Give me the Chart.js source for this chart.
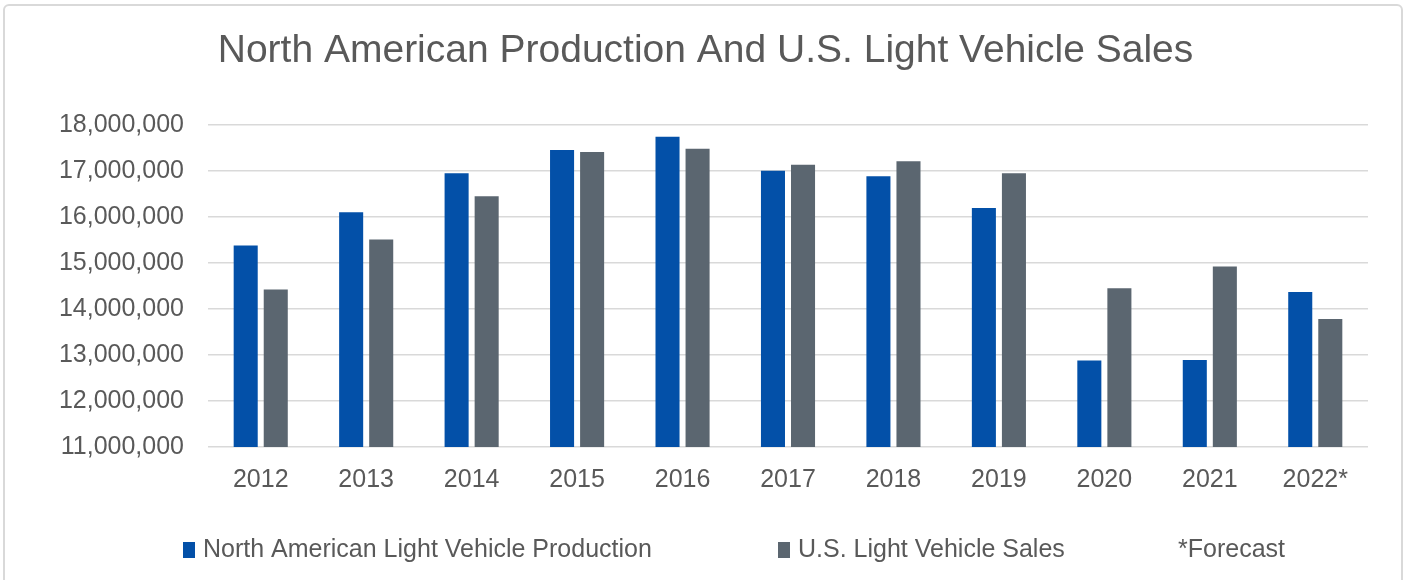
<!DOCTYPE html>
<html>
<head>
<meta charset="utf-8">
<script src="https://cdn.jsdelivr.net/npm/chart.js@4/dist/chart.umd.min.js"></script>
<style>
	html, body { margin: 0; padding: 0; background: #fff; }
	#wrap { position: relative; width: 1411px; height: 580px; overflow: hidden; }
	#frame { position: absolute; left: 3px; top: 4px; width: 1400px; height: 620px; border: 2px solid #d9d9d9; border-radius: 6px; box-sizing: border-box; }
	canvas { position: absolute; left: 0; top: 0; }
</style>
</head>
<body>
<div id="wrap">
	<div id="frame"></div>
	<canvas id="chart" width="1411" height="580"></canvas>
</div>
<script>

const years = ['2012', '2013', '2014', '2015', '2016', '2017', '2018', '2019', '2020', '2021', '2022*'];

const production = [15380000, 16100000, 16950000, 17450000, 17740000, 17000000, 16880000, 16190000, 12880000, 12890000, 14370000];
const sales = [14420000, 15510000, 16450000, 17410000, 17480000, 17130000, 17210000, 16950000, 14450000, 14920000, 13780000];

const seriesNames = ['North American Light Vehicle Production', 'U.S. Light Vehicle Sales'];
const note = '*Forecast';

const textColor = '#595959';
const fontFamily = '"Liberation Sans", Arial, sans-serif';

// legend drawn by hand so the wide gaps between items can be matched
const legendRow = {
	id: 'legendRow',
	afterDraw(chart) {
		const ctx = chart.ctx;
		const y = chart.height - 30;
		const slots = [183, 778];
		ctx.save();
		ctx.font = '25px ' + fontFamily;
		ctx.textBaseline = 'middle';
		chart.data.datasets.forEach((ds, i) => {
			ctx.fillStyle = ds.backgroundColor;
			ctx.fillRect(slots[i], y - 8, 12, 16);
			ctx.fillStyle = textColor;
			ctx.fillText(ds.label, slots[i] + 20, y);
		});
		ctx.fillStyle = textColor;
		ctx.fillText(note, 1178, y);
		ctx.restore();
	}
};

new Chart(document.getElementById('chart'), {
	type: 'bar',
	plugins: [legendRow],
	data: {
		labels: years,
		datasets: [
			{
				label: seriesNames[0],
				data: production,
				backgroundColor: '#0350a8',
				categoryPercentage: 0.57,
				barPercentage: 0.8
			},
			{
				label: seriesNames[1],
				data: sales,
				backgroundColor: '#5b6670',
				categoryPercentage: 0.57,
				barPercentage: 0.8
			}
		]
	},
	options: {
		responsive: false,
		animation: {
			duration: 0
		},
		layout: {
			padding: { left: 0, right: 0, top: 0, bottom: 67 }
		},
		scales: {
			x: {
				grid: { display: false, drawTicks: false },
				border: { display: false },
				ticks: {
					color: textColor,
					padding: 18,
					font: { family: fontFamily, size: 25 }
				}
			},
			y: {
				min: 11000000,
				max: 18000000,
				afterFit: function(scale) {
					scale.width = 208;
				},
				grid: { color: '#d9d9d9', lineWidth: 1.5, drawTicks: false },
				border: { display: false },
				ticks: {
					stepSize: 1000000,
					color: textColor,
					padding: 24,
					font: { family: fontFamily, size: 25 },
					callback: function(value) {
						return value.toLocaleString('en-US');
					}
				}
			},
			// empty right-hand gutter so the title stays centred on the whole frame
			gutter: {
				type: 'linear',
				position: 'right',
				afterFit: function(scale) {
					scale.width = 43;
				},
				grid: { display: false, drawTicks: false },
				border: { display: false },
				ticks: { display: false }
			}
		},
		plugins: {
			legend: { display: false },
			tooltip: { enabled: false },
			title: {
				display: true,
				text: 'North American Production And U.S. Light Vehicle Sales',
				color: textColor,
				font: { family: fontFamily, size: 39, weight: 'normal' },
				padding: { top: 28, bottom: 50 }
			}
		}
	}
});

</script>
</body>
</html>
